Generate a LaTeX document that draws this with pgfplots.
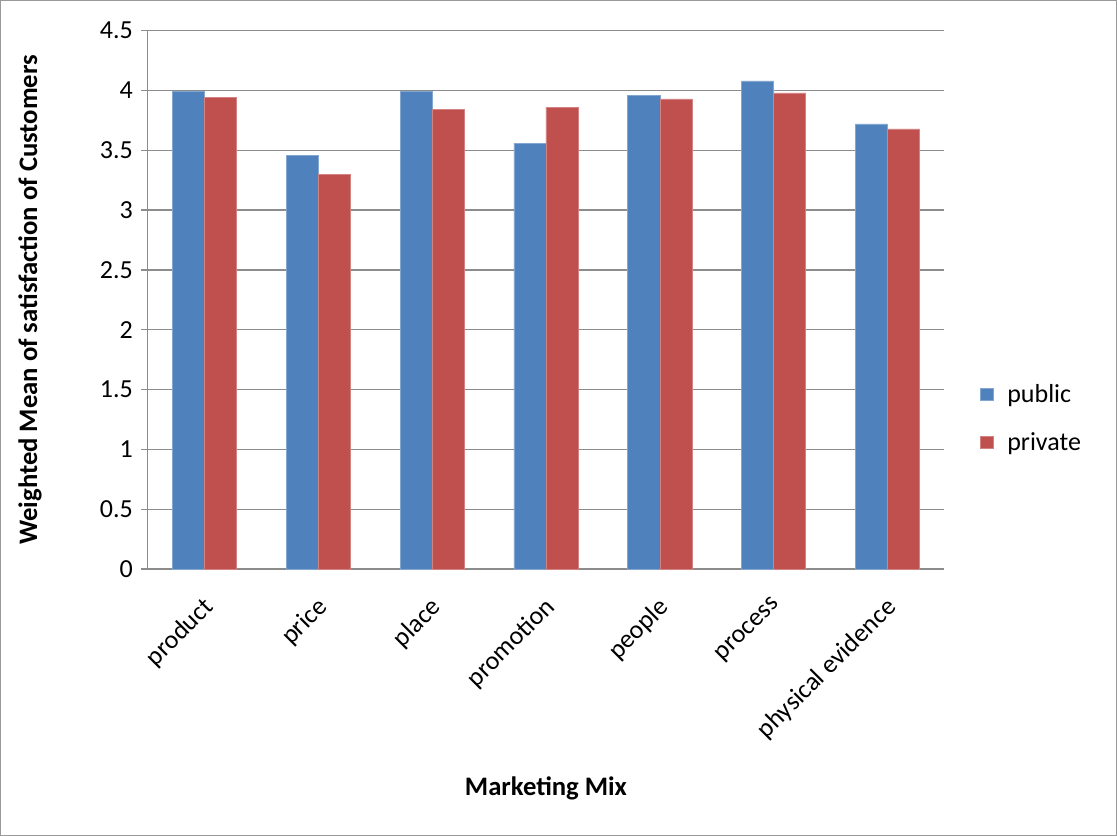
\documentclass[border=0pt]{standalone}
\usepackage{pgfplots}
\pgfplotsset{compat=1.18}
\usepackage{fontspec}
\setmainfont{Carlito}
\definecolor{pubblue}{HTML}{4F81BD}
\definecolor{privred}{HTML}{C0504D}
\definecolor{gridgray}{HTML}{8C8C8C}
\begin{document}
\begin{tikzpicture}[x=0.75pt,y=0.75pt]
\draw[gray!80, line width=1pt] (1,1) rectangle (1116,835);
\begin{axis}[
  at={(148*0.75pt,267*0.75pt)}, anchor=south west,
  scale only axis,
  width=597pt, height=403.5pt,
  ybar=0pt, bar width=24pt,
  xmin=-0.5, xmax=6.5,
  ymin=0, ymax=4.5,
  ytick={0,0.5,...,4.5},
  xtick={0,...,6},
  xticklabels={product,price,place,promotion,people,process,physical evidence},
  major x tick style={draw=none},
  extra x ticks={-0.5,0.5,1.5,2.5,3.5,4.5,5.5,6.5},
  extra x tick labels={},
  extra x tick style={major tick length=6pt, tick align=outside, major tick style={draw=gridgray, line width=1pt}, grid=none},
  tick align=outside,
  major tick length=5pt,
  y tick style={draw=gridgray, line width=1pt},
  axis x line*=bottom, axis y line*=left,
  axis line style={draw=gridgray, line width=1pt, -},
  ymajorgrids, grid style={draw=gridgray, line width=1pt},
  /pgf/number format/assume math mode=true,
  yticklabel style={font=\fontsize{19.5}{22}\selectfont, inner sep=2pt, xshift=-4pt},
  xticklabel style={font=\fontsize{19.5}{22}\selectfont, rotate=45, anchor=north east, inner sep=2pt, yshift=-7pt, xshift=-10pt},
  ylabel={\textbf{Weighted Mean of satisfaction of Customers}},
  ylabel style={font=\fontsize{20}{22}\selectfont, at={(axis description cs:-0.148,0.5)}, anchor=center},
  xlabel={\textbf{Marketing Mix}},
  xlabel style={font=\fontsize{20}{22}\selectfont, at={(axis description cs:0.5,-0.407)}, anchor=center},
  legend style={at={(axis description cs:1.045,0.28)}, anchor=west, draw=none, fill=none, font=\fontsize{19.5}{22}\selectfont, row sep=17pt, inner sep=0pt},
  legend cell align=left,
  legend image code/.code={\fill[#1] (0pt,-4.8pt) rectangle (9.8pt,4.8pt); \path[draw=none, fill=none] (0pt,0pt) (18pt,0pt);},
]
\addplot[fill=pubblue, draw=pubblue!70!white] coordinates {(0,3.99) (1,3.46) (2,3.99) (3,3.56) (4,3.96) (5,4.08) (6,3.72)};
\addplot[fill=privred, draw=privred!70!white] coordinates {(0,3.94) (1,3.30) (2,3.84) (3,3.86) (4,3.93) (5,3.98) (6,3.68)};
\legend{public, private}
\end{axis}
\end{tikzpicture}
\end{document}
